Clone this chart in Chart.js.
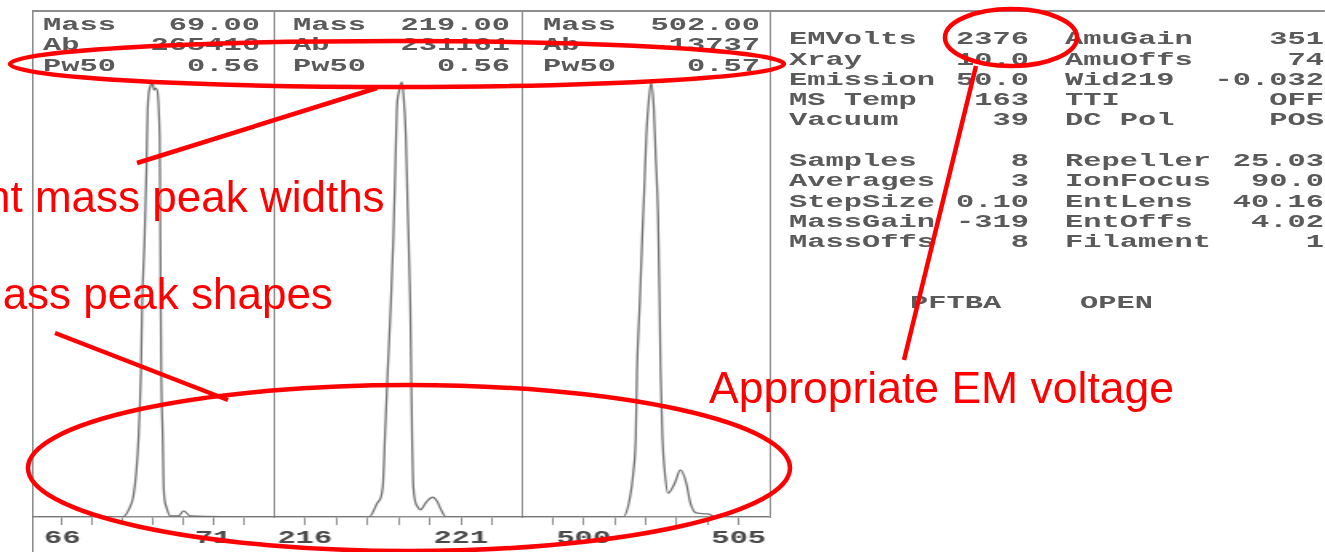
<!DOCTYPE html>
<html>
<head>
<meta charset="utf-8">
<script src="https://cdn.jsdelivr.net/npm/chart.js@4.4.0/dist/chart.umd.min.js"></script>
<style>
  html, body { margin: 0; padding: 0; background: #fff; }
  #stage { position: relative; width: 1325px; height: 552px; overflow: hidden; background: #fff; }
  /* the tune report is laid out narrow and stretched sideways, like the printed page */
  #report { position: absolute; left: 0; top: 0; width: 828.125px; height: 552px;
            transform: scaleX(1.6); transform-origin: 0 0; }
  #report canvas { position: absolute; }
  .mono { position: absolute; font-family: "Liberation Mono", "DejaVu Sans Mono", monospace;
          font-size: 19px; font-weight: bold; line-height: 20px; color: #5a5a5a; white-space: pre; }
  .rule { position: absolute; background: #8e8e8e; }
  #marks { position: absolute; left: 0; top: 0; }
  #marks text { font-family: "Liberation Sans", Arial, sans-serif; font-size: 44px; fill: #ff0000; }
  #marks .pen { fill: none; stroke: #ff0000; stroke-width: 4.5; }
</style>
</head>
<body>
<div id="stage">
  <div id="report"></div>
  <svg id="marks" width="1325" height="552" viewBox="0 0 1325 552">
    <ellipse class="pen" cx="397" cy="64" rx="387" ry="23"/>
    <line class="pen" x1="377" y1="88" x2="137" y2="163"/>
    <ellipse class="pen" cx="409" cy="468" rx="381" ry="83"/>
    <line class="pen" x1="55" y1="333" x2="228" y2="400"/>
    <ellipse class="pen" cx="1011" cy="37.5" rx="66" ry="28.5"/>
    <line class="pen" x1="976" y1="66" x2="904" y2="360"/>
    <text x="-14" y="212">nt mass peak widths</text>
    <text x="-34" y="309">mass peak shapes</text>
    <text x="709" y="403" style="font-size:44.5px">Appropriate EM voltage</text>
  </svg>
</div>

<script>
// ---- scan data: mass (amu) and relative abundance (% of panel height) ----
const mass69  = [65.0, 68.0, 68.2, 68.35, 68.46, 68.53, 68.61, 68.65, 68.73, 68.79, 68.83, 68.92, 68.99,
                 69.04, 69.10, 69.23, 69.25, 69.28, 69.33, 69.36, 69.45, 69.58, 69.85, 70.02, 70.25, 73.0];
const abund69 = [0, 0, 1.4, 3.9, 9.3, 15.8, 29, 42.2, 55.2, 68.4, 80.3, 85, 85.6,
                 84.2, 84.6, 75, 55, 29, 15.8, 5.9, 2, 0.2, 0.2, 1.2, 0.2, 0];

const mass219  = [215.0, 218.06, 218.33, 218.50, 218.57, 218.66, 218.76, 218.84, 218.90, 218.95, 219.01,
                  219.11, 219.17, 219.24, 219.30, 219.38, 219.41, 219.44, 219.48, 219.62, 219.70, 219.90,
                  220.10, 220.25, 220.37, 220.53, 223.0];
const abund219 = [0, 0, 2.8, 5.9, 15.8, 29, 42.2, 55.2, 68.4, 80.3, 83.6,
                  85.8, 82.8, 75, 60.6, 42.2, 29, 15.8, 5.9, 2, 1.4, 3.0,
                  3.9, 3.0, 1.4, 0, 0];

const mass502  = [498.0, 501.27, 501.48, 501.61, 501.68, 501.72, 501.81, 501.89, 501.95, 502.02, 502.11,
                  502.18, 502.26, 502.32, 502.40, 502.45, 502.48, 502.54, 502.61, 502.72, 502.94, 503.12,
                  503.31, 503.44, 503.63, 504.01, 504.28, 506.0];
const abund502 = [0, 0, 3.4, 9.3, 15.8, 29, 42.2, 55.2, 63.9, 75, 82.8,
                  85.6, 80.9, 71.8, 59.2, 42.2, 29, 15.8, 9.3, 4.7, 6.7, 9.3,
                  6.7, 2.8, 0.8, 0.6, 0, 0];

// scan windows and labelled ticks
const windows    = [[65, 73], [215, 223], [498, 506]];
const tickLabels = [[66, 71], [216, 221], [500, 505]];

// peak header blocks
const peakMass = ["69.00", "219.00", "502.00"];
const peakAb   = ["265416", "231161", "13737"];
const peakPw50 = ["0.56", "0.56", "0.57"];

// tune parameters
const paramsLeft = [["EMVolts", "2376"], ["Xray", "10.0"], ["Emission", "50.0"], ["MS Temp", "163"],
                    ["Vacuum", "39"], null, ["Samples", "8"], ["Averages", "3"], ["StepSize", "0.10"],
                    ["MassGain", "-319"], ["MassOffs", "8"]];
const paramsRight = [["AmuGain", "351"], ["AmuOffs", "74"], ["Wid219", "-0.032"], ["TTI", "OFF"],
                     ["DC Pol", "POS"], null, ["Repeller", "25.03"], ["IonFocus", "90.0"],
                     ["EntLens", "40.16"], ["EntOffs", "4.02"], ["Filament", "1"]];
const footer = [["PFTBA", 910], ["OPEN", 1080]];

// ---- layout (page pixels; the report layer is stretched by SX) ----
const SX = 1.6;
const report = document.getElementById('report');
const panelEdges = [32, 273, 522, 770];
const plotTop = 10, plotBottom = 517, pageH = 552;

function rule(x, y, w, h) {
  const d = document.createElement('div');
  d.className = 'rule';
  d.style.left = (x / SX) + 'px';
  d.style.top = y + 'px';
  d.style.width = (w / SX) + 'px';
  d.style.height = h + 'px';
  report.appendChild(d);
}

function text(str, x, yc, alignRight) {
  const d = document.createElement('div');
  d.className = 'mono';
  d.textContent = str;
  d.style.left = (x / SX) + 'px';
  d.style.top = (yc - 8.8) + 'px';
  if (alignRight) d.style.transform = 'translateX(-100%)';
  report.appendChild(d);
}

// frame
rule(32, plotTop, 1325 - 32, 1.5);
rule(32, plotTop, 1.5, pageH - plotTop);
rule(273, plotTop, 1.5, plotBottom - plotTop + 1);
rule(522, plotTop, 1.5, plotBottom - plotTop + 1);
rule(770, plotTop, 1.5, plotBottom - plotTop + 1);

function drawPanel(i, masses, abund) {
  const [min, max] = windows[i];
  const left = panelEdges[i] / SX;
  const width = Math.round((panelEdges[i + 1] - panelEdges[i]) / SX);
  const cv = document.createElement('canvas');
  cv.width = width;
  cv.height = pageH - plotTop;
  cv.style.left = left + 'px';
  cv.style.top = plotTop + 'px';
  cv.style.width = width + 'px';
  cv.style.height = (pageH - plotTop) + 'px';
  report.appendChild(cv);
  const labelled = tickLabels[i];
  new Chart(cv, {
    type: 'line',
    data: {
      datasets: [{
        data: masses.map((m, k) => ({ x: m, y: abund[k] })),
        borderColor: '#727272',
        borderWidth: 1.3,
        pointRadius: 0,
        fill: false,
        cubicInterpolationMode: 'monotone'
      }]
    },
    options: {
      responsive: false,
      animation: false,
      devicePixelRatio: 1,
      layout: { padding: 0 },
      plugins: { legend: { display: false }, tooltip: { enabled: false } },
      scales: {
        x: {
          type: 'linear', min, max,
          afterBuildTicks: s => { s.ticks = s.ticks.filter(t => t.value > min && t.value < max); },
          afterFit: s => { s.height = pageH - plotBottom; },
          ticks: {
            stepSize: 1, autoSkip: false, maxRotation: 0, minRotation: 0, padding: 2,
            color: '#4a4a4a',
            font: { family: 'Liberation Mono', size: 19, weight: 'bold' },
            callback: v => labelled.includes(v) ? String(v) : ''
          },
          grid: { drawOnChartArea: false, drawTicks: true, tickLength: 8, color: '#8e8e8e', lineWidth: 1 },
          border: { display: true, color: '#8e8e8e', width: 1.5 }
        },
        y: { display: false, min: 0, max: 100 }
      }
    }
  });
}

drawPanel(0, mass69, abund69);
drawPanel(1, mass219, abund219);
drawPanel(2, mass502, abund502);

// peak headers
const headLeft = [43, 293, 543], headRight = [260, 510, 760];
for (let i = 0; i < 3; i++) {
  text('Mass', headLeft[i], 24); text(peakMass[i], headRight[i], 24, true);
  text('Ab',   headLeft[i], 44); text(peakAb[i],   headRight[i], 44, true);
  text('Pw50', headLeft[i], 65); text(peakPw50[i], headRight[i], 65, true);
}

// parameter table
const rowY = k => 38 + k * 20.3;
paramsLeft.forEach((p, k) => { if (p) { text(p[0], 789, rowY(k)); text(p[1], 1029, rowY(k), true); } });
paramsRight.forEach((p, k) => { if (p) { text(p[0], 1065, rowY(k)); text(p[1], 1324, rowY(k), true); } });
footer.forEach(([s, x]) => text(s, x, rowY(13)));
</script>
</body>
</html>
